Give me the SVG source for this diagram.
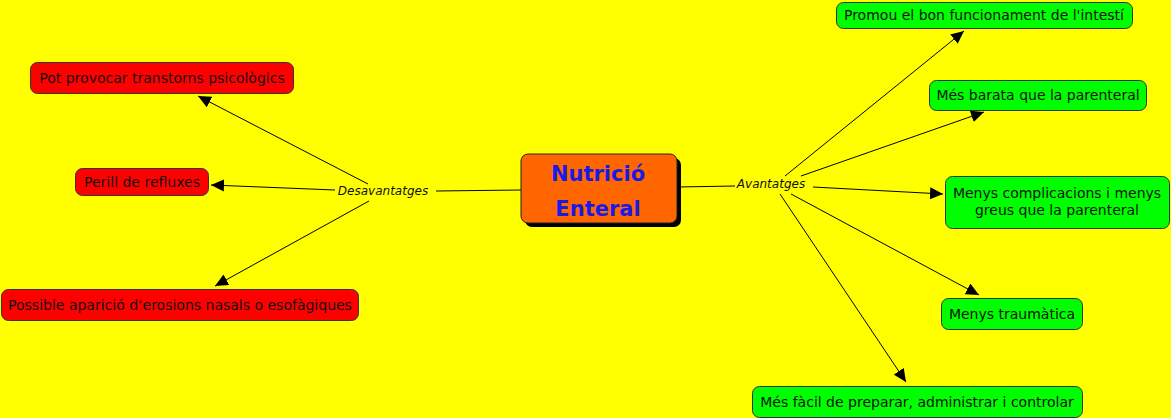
<svg xmlns="http://www.w3.org/2000/svg" width="1171" height="418" viewBox="0 0 1171 418">
<style>
.bg{fill:#ffff00}
.red{fill:#ff0000;stroke:#333;stroke-width:1}
.green{fill:#00ff00;stroke:#333;stroke-width:1}
.t{font-family:"DejaVu Sans",Verdana,sans-serif;font-size:14px;fill:#111;text-anchor:middle}
.lbl{font-family:"DejaVu Sans",Verdana,sans-serif;font-size:12px;font-style:italic;fill:#111;text-anchor:middle}
.c{stroke:#000;stroke-width:1;fill:none}
.ctr{font-family:"Comic Sans MS","DejaVu Sans",sans-serif;font-size:21px;font-weight:bold;fill:#1a1ae6;text-anchor:middle}
</style>
<defs>
<marker id="ah" markerUnits="userSpaceOnUse" markerWidth="14" markerHeight="12" viewBox="0 0 14 12" refX="13" refY="6" orient="auto">
<path d="M0,0 L13,6 L0,12 Z" fill="#000"/>
</marker>
</defs>
<rect class="bg" x="0" y="0" width="1171" height="418"/>
<g id="connectors">
<line class="c" x1="521" y1="190" x2="436" y2="191"/>
<line class="c" x1="368" y1="184" x2="198" y2="96" marker-end="url(#ah)"/>
<line class="c" x1="335" y1="190" x2="211" y2="185" marker-end="url(#ah)"/>
<line class="c" x1="369" y1="201" x2="215" y2="286" marker-end="url(#ah)"/>
<line class="c" x1="677" y1="187" x2="735" y2="186"/>
<line class="c" x1="785" y1="176" x2="964" y2="31" marker-end="url(#ah)"/>
<line class="c" x1="801" y1="176" x2="984" y2="112" marker-end="url(#ah)"/>
<line class="c" x1="813" y1="187" x2="943" y2="194" marker-end="url(#ah)"/>
<line class="c" x1="791" y1="194" x2="979" y2="295" marker-end="url(#ah)"/>
<line class="c" x1="780" y1="194" x2="906" y2="382" marker-end="url(#ah)"/>
<text class="lbl" x="383" y="195">Desavantatges</text>
<text class="lbl" x="771" y="188">Avantatges</text>
</g>
<g id="center">
<rect x="525" y="158" width="156" height="69" rx="7" fill="#000"/>
<rect x="521" y="154" width="156" height="69" rx="7" fill="#ff6600" stroke="#222" stroke-width="1"/>
<text class="ctr" x="598" y="181">Nutrició</text>
<text class="ctr" x="598" y="216">Enteral</text>
</g>
<g id="n-psico">
<rect class="red" x="30.5" y="62.5" width="263" height="31" rx="7"/>
<text class="t" x="162" y="83">Pot provocar transtorns psicològics</text>
</g>
<g id="n-reflux">
<rect class="red" x="75.5" y="168.5" width="133" height="27" rx="7"/>
<text class="t" x="142" y="187">Perill de refluxes</text>
</g>
<g id="n-erosions">
<rect class="red" x="1.5" y="289.5" width="357" height="31" rx="7"/>
<text class="t" x="180" y="310">Possible aparició d’erosions nasals o esofàgiques</text>
</g>
<g id="n-intesti">
<rect class="green" x="836.5" y="2.5" width="296" height="26" rx="7"/>
<text class="t" x="984" y="20">Promou el bon funcionament de l'intestí</text>
</g>
<g id="n-barata">
<rect class="green" x="929.5" y="80.5" width="217" height="30" rx="7"/>
<text class="t" x="1038" y="100">Més barata que la parenteral</text>
</g>
<g id="n-complicacions">
<rect class="green" x="945.5" y="176.5" width="224" height="52" rx="7"/>
<text class="t" x="1057" y="198">Menys complicacions i menys</text>
<text class="t" x="1057" y="215">greus que la parenteral</text>
</g>
<g id="n-traumatica">
<rect class="green" x="941.5" y="298.5" width="141" height="31" rx="7"/>
<text class="t" x="1012" y="319">Menys traumàtica</text>
</g>
<g id="n-facil">
<rect class="green" x="752.5" y="386.5" width="330" height="31" rx="7"/>
<text class="t" x="917" y="407">Més fàcil de preparar, administrar i controlar</text>
</g>
</svg>
